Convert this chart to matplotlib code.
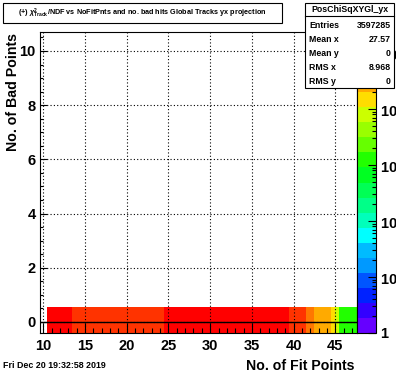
import numpy as np
import matplotlib
matplotlib.use("Agg")
import matplotlib.pyplot as plt
from matplotlib.colors import ListedColormap, LogNorm
from matplotlib.patches import Rectangle
from matplotlib.ticker import FixedLocator, FixedFormatter, MultipleLocator, LogLocator, NullFormatter

plt.rcParams['font.family'] = ['Liberation Sans', 'DejaVu Sans']
plt.rcParams['font.weight'] = 'bold'
plt.rcParams['mathtext.fontset'] = 'custom'
plt.rcParams['mathtext.rm'] = 'Liberation Sans:bold'
plt.rcParams['mathtext.it'] = 'Liberation Sans:bold:italic'
plt.rcParams['mathtext.bf'] = 'Liberation Sans:bold'

# histogram data (x bin edges, one row of bad points = 0)
x_edges = [10.4, 13.4, 24.5, 39.5, 41.5, 42.5, 44.5, 45.0, 45.5, 47.6]
y_edges = [-0.5, 0.56]
counts = [1.5e5, 9.0e4, 1.5e5, 9.0e4, 5.0e4, 2.8e4, 1.5e4, 8.0e3, 1.2e3]

palette = ['#6600ff', '#3300ff', '#0022ff', '#0055ff', '#0099ff', '#00bbff',
           '#00ffff', '#00ffbb', '#00ff88', '#00ff55', '#00ff22', '#22ff00',
           '#66ff00', '#99ff00', '#ccff00', '#ffdd00', '#ffaa00', '#ff7700',
           '#ff3300', '#ff0000']
z_min, z_max = 1, 2.37e5

stats_names = ['Entries', 'Mean x', 'Mean y', 'RMS x', 'RMS y']
stats_values = ['3597285', '27.57', '0', '8.968', '0']

W, H = 396, 372
fig = plt.figure(figsize=(W / 100, H / 100), dpi=100)

def fx(px):
    return px / W

def fy(py):
    return 1 - py / H

ax = fig.add_axes([fx(40), fy(333), fx(357) - fx(40), fy(32) - fy(333)])
cax = fig.add_axes([fx(357), fy(333), fx(376) - fx(357), fy(32) - fy(333)])

cmap = ListedColormap(palette)
norm = LogNorm(vmin=z_min, vmax=z_max)
mesh = ax.pcolormesh(x_edges, y_edges, np.array([counts]), cmap=cmap, norm=norm,
                     zorder=1)

ax.set_xlim(9.6, 47.6)
ax.set_ylim(-0.41, 10.7)

ax.xaxis.set_major_locator(MultipleLocator(5))
ax.xaxis.set_minor_locator(MultipleLocator(1))
ax.yaxis.set_major_locator(MultipleLocator(2))
ax.yaxis.set_minor_locator(MultipleLocator(0.5))
ax.grid(True, which='major', color='black', linestyle=(0, (1, 2)), linewidth=0.8,
        zorder=2)
ax.set_axisbelow(False)
ax.axhline(0, color='black', linewidth=1.0, zorder=3)

ax.tick_params(axis='both', which='both', direction='in', top=False, right=False,
               labelsize=10.5, width=0.8)
ax.tick_params(axis='x', which='major', length=7, pad=4)
ax.tick_params(axis='x', which='minor', length=3.5)
ax.tick_params(axis='y', which='major', length=5, pad=3)
ax.tick_params(axis='y', which='minor', length=2.5)
for s in ax.spines.values():
    s.set_linewidth(0.8)

# colour scale
cb = fig.colorbar(mesh, cax=cax)
cb.outline.set_linewidth(0.8)
cax.yaxis.set_ticks_position('right')
decades = [1, 10, 100, 1000, 10000, 100000]
cax.yaxis.set_major_locator(FixedLocator(decades))
cax.yaxis.set_major_formatter(FixedFormatter(
    ['1', r'$\mathbf{10^{1}}$', r'$\mathbf{10^{2}}$', r'$\mathbf{10^{3}}$',
     r'$\mathbf{10^{4}}$', r'$\mathbf{10^{5}}$']))
cax.yaxis.set_minor_locator(LogLocator(base=10, subs=np.arange(2, 10)))
cax.yaxis.set_minor_formatter(NullFormatter())
cax.tick_params(axis='y', which='both', direction='in', labelsize=10.5, width=0.8,
                pad=3)
cax.tick_params(axis='y', which='major', length=6)
cax.tick_params(axis='y', which='minor', length=3)

# axis titles
fig.text(fx(355), fy(366), 'No. of Fit Points', ha='right', va='center',
         fontsize=10.2, fontweight='bold')
fig.text(fx(13), fy(33), 'No. of Bad Points', ha='center', va='top',
         rotation=90, fontsize=10.2, fontweight='bold')
fig.text(fx(3), fy(366), 'Fri Dec 20 19:32:58 2019', ha='left', va='center',
         fontsize=6.4, fontweight='bold')

# title box
fig.patches.append(Rectangle((fx(3), fy(23)), fx(282) - fx(3), fy(3) - fy(23),
                             transform=fig.transFigure, facecolor='white',
                             edgecolor='black', linewidth=0.8, zorder=5))
fig.text(fx(142), fy(13),
         r'(+) $\chi^{2}_{\rm Track}$/NDF vs NoFitPnts and no. bad hits Global Tracks yx projection',
         ha='center', va='center', fontsize=5.2, fontweight='bold', zorder=6)

# stats box
fig.patches.append(Rectangle((fx(305), fy(88)), fx(394) - fx(305), fy(3) - fy(88),
                             transform=fig.transFigure, facecolor='white',
                             edgecolor='black', linewidth=0.8, zorder=5))
fig.lines.append(plt.Line2D([fx(305), fx(394)], [fy(16), fy(16)],
                            transform=fig.transFigure, color='black',
                            linewidth=0.8, zorder=6))
fig.text(fx(349.5), fy(9.5), 'PosChiSqXYGl_yx', ha='center', va='center',
         fontsize=6.3, fontweight='bold', zorder=6)
row_y = [25, 39.5, 53, 67, 81]
for name, val, yy in zip(stats_names, stats_values, row_y):
    fig.text(fx(309), fy(yy), name, ha='left', va='center', fontsize=6.3,
             fontweight='bold', zorder=6)
    fig.text(fx(391), fy(yy), val, ha='right', va='center', fontsize=6.3,
             fontweight='bold', zorder=6)

fig.savefig('out.png', dpi=100)
